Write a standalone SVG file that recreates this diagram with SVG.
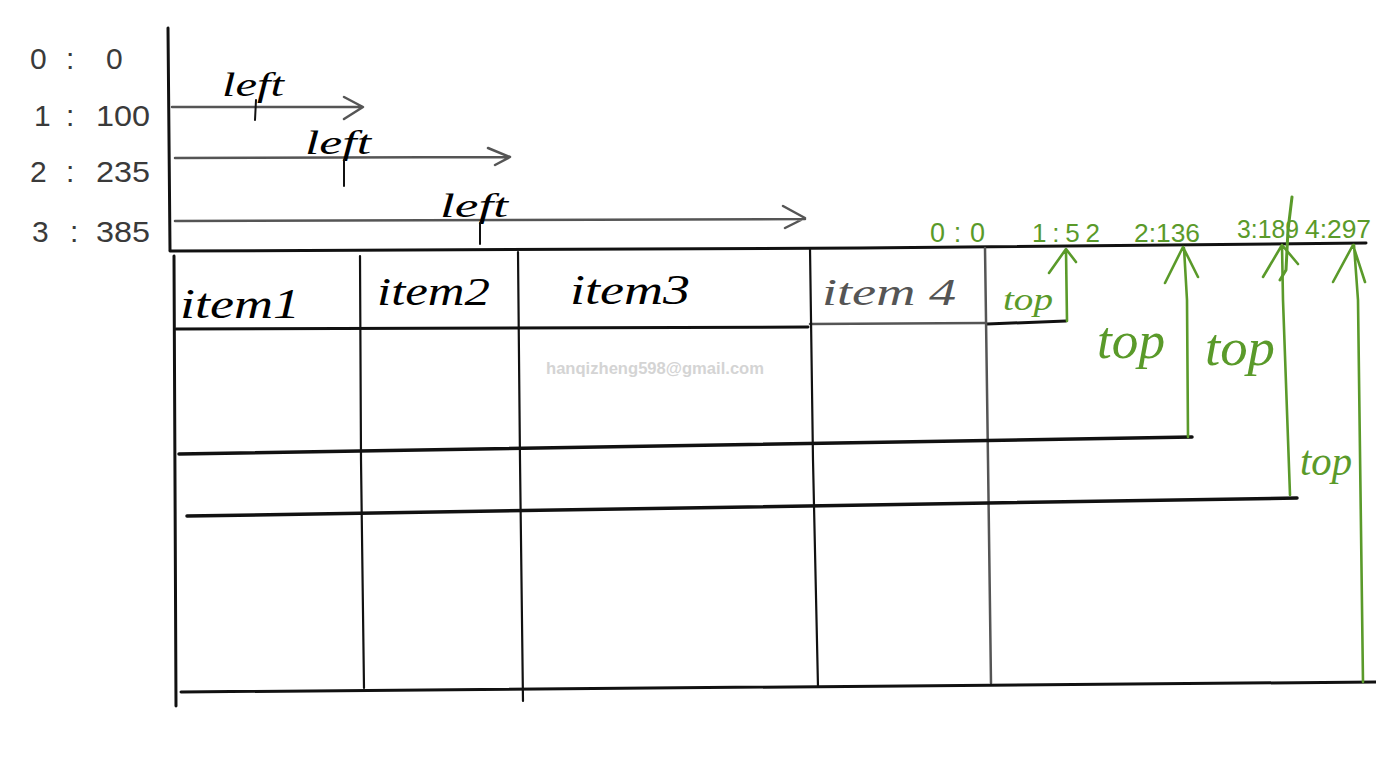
<svg xmlns="http://www.w3.org/2000/svg" width="1376" height="766" viewBox="0 0 1376 766">
<style>
.ink{fill:none;stroke:#111;stroke-width:3;stroke-linecap:round;stroke-linejoin:round}
.thin{fill:none;stroke:#111;stroke-width:2.2;stroke-linecap:round}
.gray{fill:none;stroke:#555;stroke-width:2.5;stroke-linecap:round;stroke-linejoin:round}
.grn{fill:none;stroke:#5a9a2a;stroke-width:2.6;stroke-linecap:round;stroke-linejoin:round}
.hand{font-family:"Liberation Serif","DejaVu Serif",serif;font-style:italic}
.lbl{font-family:"Liberation Sans","DejaVu Sans",sans-serif;fill:#3a3a3a;font-size:30px}
.gtxt{font-family:"Liberation Sans","DejaVu Sans",sans-serif;fill:#5a9a2a}
</style>
<rect width="1376" height="766" fill="#fff"/>

<g id="left-labels" class="lbl">
  <text x="30" y="69">0</text><text x="66" y="69">:</text><text x="106" y="69">0</text>
  <text x="34" y="126">1</text><text x="66" y="126">:</text><text x="96" y="126" textLength="54" lengthAdjust="spacingAndGlyphs">100</text>
  <text x="30" y="182">2</text><text x="66" y="182">:</text><text x="96" y="182" textLength="54" lengthAdjust="spacingAndGlyphs">235</text>
  <text x="32" y="242">3</text><text x="70" y="242">:</text><text x="96" y="242" textLength="54" lengthAdjust="spacingAndGlyphs">385</text>
</g>

<g id="table">
  <path class="ink" d="M168,28 L170,250"/>
  <path class="ink" d="M170,251 L860,248 L1366,243"/>
  <path class="ink" d="M174,256 L176,706"/>
  <path class="ink" d="M176,329 L808,327"/>
  <path class="gray" d="M810,324 L985,323"/>
  <path class="ink" d="M987,324 L1066,321"/>
  <path class="thin" d="M360,256 L361,460 L364,688"/>
  <path class="thin" d="M518,252 L520,460 L523,701"/>
  <path class="thin" d="M810,248 L813,460 L818,687"/>
  <path class="gray" d="M985,248 L988,460 L991,683"/>
  <path class="ink" d="M179,454 L1192,437" style="stroke-width:3.5"/>
  <path class="ink" d="M187,516 L1297,498" style="stroke-width:3.5"/>
  <path class="ink" d="M181,692 L1376,682"/>
  <g id="item1"><text class="hand" x="180" y="318" font-size="42" textLength="120" lengthAdjust="spacingAndGlyphs">item1</text></g>
  <g id="item2"><text class="hand" x="377" y="305" font-size="40" textLength="113" lengthAdjust="spacingAndGlyphs">item2</text></g>
  <g id="item3"><text class="hand" x="570" y="304" font-size="42" textLength="120" lengthAdjust="spacingAndGlyphs">item3</text></g>
  <g id="item4"><text class="hand" x="822" y="305" font-size="38" textLength="134" lengthAdjust="spacingAndGlyphs" fill="#555">item 4</text></g>
  <text x="655" y="374" text-anchor="middle" font-family="Liberation Sans,DejaVu Sans,sans-serif" font-weight="bold" font-size="17" fill="#d4d4d4" textLength="218" lengthAdjust="spacingAndGlyphs">hanqizheng598@gmail.com</text>
</g>

<g id="connectors">
  <g id="left-arrows">
    <path class="gray" d="M172,107 L362,107 M344,97 L363,107 L344,119"/>
    <path class="gray" d="M175,158 L509,157 M488,148 L510,157 L495,165"/>
    <path class="gray" d="M175,221 L805,219 M783,206 L805,218 L785,228"/>
    <text class="hand" x="222" y="96" font-size="34" textLength="62" lengthAdjust="spacingAndGlyphs">left</text>
    <text class="hand" x="305" y="154" font-size="34" textLength="66" lengthAdjust="spacingAndGlyphs">left</text>
    <text class="hand" x="440" y="217" font-size="34" textLength="68" lengthAdjust="spacingAndGlyphs">left</text>
    <path class="ink" d="M256,100 L255,120 M344,160 L344,186 M480,223 L480,244" style="stroke-width:2"/>
  </g>
  <g id="top-arrows">
    <path class="grn" d="M1067,321 L1066,250 M1049,273 L1066,249 L1076,262"/>
    <path class="grn" d="M1188,437 L1187,300 L1184,248 M1165,283 L1183,247 L1198,277"/>
    <path class="grn" d="M1290,495 L1283,300 L1282,245 M1263,277 L1282,245 L1298,264"/>
    <path class="grn" d="M1363,682 L1358,300 L1354,245 M1333,282 L1353,245 L1365,282"/>
    <path class="grn" d="M1292,197 L1288,230 L1286,270 L1280,280" style="stroke-width:3"/>
  </g>
  <g id="top-labels" class="gtxt">
    <text x="930" y="242" font-size="27" textLength="55" lengthAdjust="spacing">0:0</text>
    <text x="1032" y="242" font-size="26" textLength="68" lengthAdjust="spacing">1:52</text>
    <text x="1134" y="242" font-size="26" textLength="66" lengthAdjust="spacingAndGlyphs">2:136</text>
    <text x="1237" y="238" font-size="26" textLength="62" lengthAdjust="spacingAndGlyphs">3:189</text>
    <text x="1305" y="238" font-size="26" textLength="66" lengthAdjust="spacingAndGlyphs">4:297</text>
    <text class="hand" x="1003" y="310" font-size="32" fill="#5a9a2a" textLength="50" lengthAdjust="spacingAndGlyphs">top</text>
    <text class="hand" x="1097" y="358" font-size="52" fill="#5a9a2a" textLength="68" lengthAdjust="spacingAndGlyphs">top</text>
    <text class="hand" x="1205" y="365" font-size="52" fill="#5a9a2a" textLength="70" lengthAdjust="spacingAndGlyphs">top</text>
    <text class="hand" x="1300" y="475" font-size="42" fill="#5a9a2a" textLength="52" lengthAdjust="spacingAndGlyphs">top</text>
  </g>
</g>
</svg>
